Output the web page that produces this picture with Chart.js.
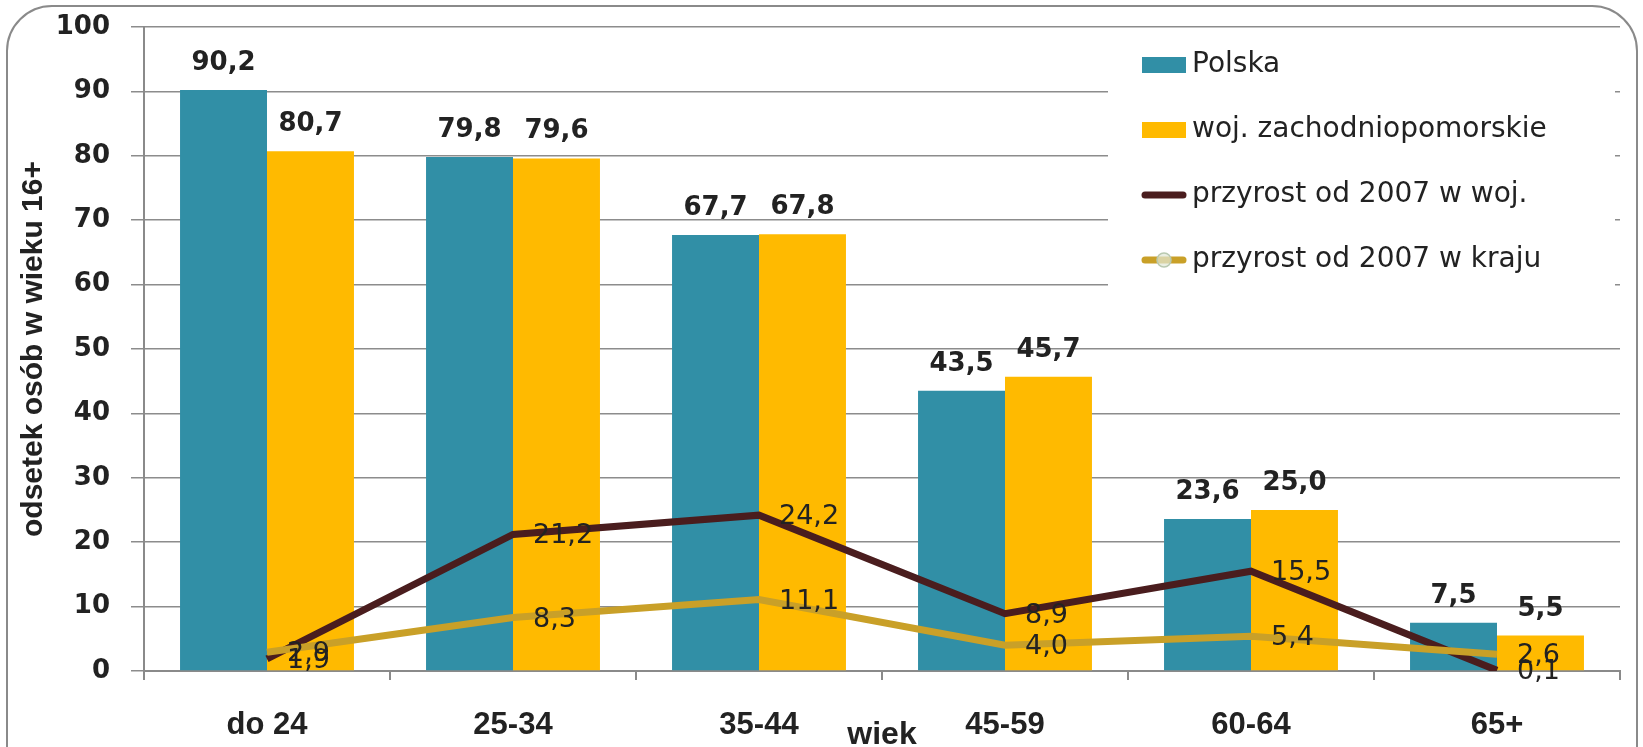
<!DOCTYPE html>
<html>
<head>
<meta charset="utf-8">
<script src="https://cdn.jsdelivr.net/npm/chart.js@4.4.1/dist/chart.umd.min.js"></script>
<style>
  html, body { margin: 0; padding: 0; background: #fff; }
  #wrap { width: 1643px; height: 747px; }
</style>
</head>
<body>
<div id="wrap"><canvas id="chart" width="1643" height="747"></canvas></div>
<script>
const categories = ['do 24', '25-34', '35-44', '45-59', '60-64', '65+'];
const polska = [90.2, 79.8, 67.7, 43.5, 23.6, 7.5];
const zachodniopomorskie = [80.7, 79.6, 67.8, 45.7, 25.0, 5.5];
const przyrostWoj = [1.9, 21.2, 24.2, 8.9, 15.5, 0.1];
const przyrostKraj = [2.9, 8.3, 11.1, 4.0, 5.4, 2.6];
const yTicks = [0, 10, 20, 30, 40, 50, 60, 70, 80, 90, 100];

const TEAL = '#318fa6';
const YELLOW = '#ffba00';
const DARK = '#4a1d1e';
const GOLD = '#c9a028';
const TEXT = '#222';

const fmt = (v) => v.toFixed(1).replace('.', ',');

// outer rounded frame
const framePlugin = {
  id: 'frame',
  beforeDraw(chart) {
    const ctx = chart.ctx;
    ctx.save();
    ctx.fillStyle = '#fff';
    ctx.fillRect(0, 0, chart.width, chart.height);
    const l = 7, t = 6, r = 1637, b = chart.height + 20, rad = 45;
    ctx.beginPath();
    ctx.moveTo(l, b);
    ctx.lineTo(l, t + rad);
    ctx.arcTo(l, t, l + rad, t, rad);
    ctx.lineTo(r - rad, t);
    ctx.arcTo(r, t, r, t + rad, rad);
    ctx.lineTo(r, b);
    ctx.strokeStyle = '#8a8a8a';
    ctx.lineWidth = 2;
    ctx.stroke();
    ctx.restore();
  }
};

// value labels: bars above, lines to the right of the point
const labelPlugin = {
  id: 'valueLabels',
  afterDatasetsDraw(chart) {
    const ctx = chart.ctx;
    ctx.save();
    ctx.fillStyle = TEXT;
    chart.data.datasets.forEach((ds, i) => {
      const meta = chart.getDatasetMeta(i);
      meta.data.forEach((el, j) => {
        const txt = fmt(ds.data[j]);
        if (ds.type === 'line') {
          ctx.font = '27px "DejaVu Sans"';
          ctx.textAlign = 'left';
          ctx.textBaseline = 'middle';
          ctx.fillText(txt, el.x + 20, el.y + 2);
        } else {
          ctx.font = 'bold 26px "DejaVu Sans"';
          ctx.textAlign = 'center';
          ctx.textBaseline = 'alphabetic';
          ctx.fillText(txt, el.x, el.y - 20);
        }
      });
    });
    ctx.restore();
  }
};

// legend inside the plot, top right, on a white box
const legendPlugin = {
  id: 'insideLegend',
  afterDraw(chart) {
    const ctx = chart.ctx;
    const area = chart.chartArea;
    const boxL = area.right - 512, boxR = area.right - 5;
    const boxT = area.top + 8, boxB = area.top + 267;
    const swL = area.right - 478, swW = 44, txtX = area.right - 428;
    const rowY0 = area.top + 38, rowStep = 65;
    ctx.save();
    ctx.fillStyle = '#fff';
    ctx.fillRect(boxL, boxT, boxR - boxL, boxB - boxT);
    chart.data.datasets.forEach((ds, i) => {
      const y = rowY0 + i * rowStep;
      if (ds.type === 'line') {
        ctx.strokeStyle = ds.borderColor;
        ctx.lineWidth = 7;
        ctx.lineCap = 'round';
        ctx.beginPath();
        ctx.moveTo(swL + 3, y);
        ctx.lineTo(swL + swW - 3, y);
        ctx.stroke();
        if (ds.legendMarker) {
          ctx.beginPath();
          ctx.arc(swL + swW / 2, y, 7, 0, Math.PI * 2);
          ctx.fillStyle = 'rgba(225,232,215,0.7)';
          ctx.fill();
          ctx.lineWidth = 1.5;
          ctx.strokeStyle = '#b9c9b0';
          ctx.stroke();
        }
      } else {
        ctx.fillStyle = ds.backgroundColor;
        ctx.fillRect(swL, y - 8, swW, 16);
      }
      ctx.fillStyle = TEXT;
      ctx.font = '28px "DejaVu Sans"';
      ctx.textAlign = 'left';
      ctx.textBaseline = 'middle';
      ctx.fillText(ds.label, txtX, y);
    });
    ctx.restore();
  }
};

new Chart(document.getElementById('chart'), {
  data: {
    labels: categories,
    datasets: [
      { type: 'bar', label: 'Polska', data: polska, backgroundColor: TEAL, order: 2 },
      { type: 'bar', label: 'woj. zachodniopomorskie', data: zachodniopomorskie, backgroundColor: YELLOW, order: 2 },
      { type: 'line', label: 'przyrost od 2007 w woj.', data: przyrostWoj, borderColor: DARK, borderWidth: 7,
        pointRadius: 0, tension: 0, order: 1 },
      { type: 'line', label: 'przyrost od 2007 w kraju', data: przyrostKraj, borderColor: GOLD, borderWidth: 7,
        pointRadius: 0, tension: 0, order: 0, legendMarker: true }
    ]
  },
  options: {
    responsive: false,
    animation: false,
    layout: { padding: { left: 0, top: 27, right: 23, bottom: 0 } },
    datasets: { bar: { categoryPercentage: 0.707, barPercentage: 1.0 } },
    plugins: { legend: { display: false }, tooltip: { enabled: false } },
    scales: {
      x: {
        afterFit: (s) => { s.height = 76; },
        grid: { offset: true, drawOnChartArea: false, drawTicks: true, tickLength: 9, color: '#8a8a8a', lineWidth: 2 },
        border: { color: '#8a8a8a', width: 2 },
        ticks: { color: TEXT, padding: 27, font: { family: 'Liberation Sans', weight: 'bold', size: 31 } },
        title: { display: true, text: 'wiek', color: TEXT, padding: 0,
                 font: { family: 'Liberation Sans', weight: 'bold', size: 32, lineHeight: 0.75 } }
      },
      y: {
        min: 0, max: 100,
        afterFit: (s) => { s.width = 144; s.paddingTop = 0; s.paddingBottom = 0; },
        afterBuildTicks: (s) => { s.ticks = yTicks.map((v) => ({ value: v })); },
        grid: { color: '#8c8c8c', lineWidth: 1.5, tickLength: 13 },
        border: { color: '#8a8a8a', width: 2 },
        ticks: { color: TEXT, padding: 21, font: { family: 'DejaVu Sans', weight: 'bold', size: 26 } },
        title: { display: true, text: 'odsetek osób w wieku 16+', color: TEXT, padding: { top: 16, bottom: 0 },
                 font: { family: 'Liberation Sans', weight: 'bold', size: 30, lineHeight: 1.2 } }
      }
    }
  },
  plugins: [framePlugin, labelPlugin, legendPlugin]
});
</script>
</body>
</html>
